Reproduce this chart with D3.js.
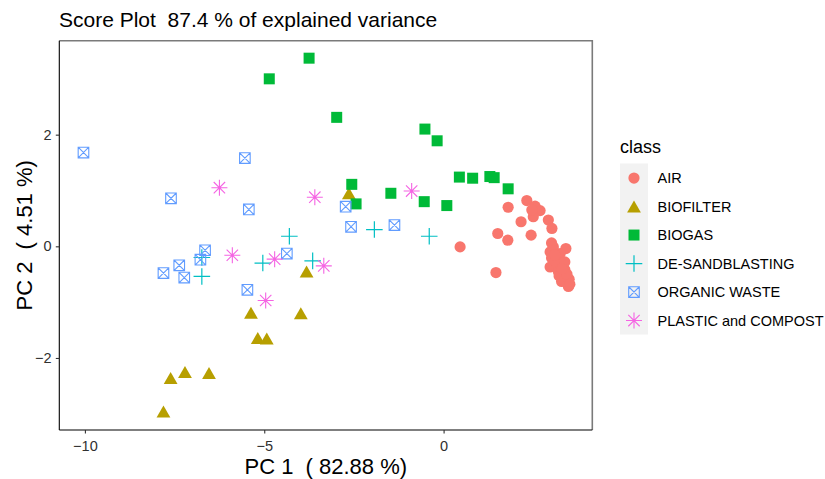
<!DOCTYPE html>
<html><head><meta charset="utf-8">
<script src="https://cdn.jsdelivr.net/npm/d3@7"></script>
<style>body{margin:0;background:#fff} text{font-family:"Liberation Sans",Arial,sans-serif;white-space:pre}</style>
</head><body><svg id="c" width="825" height="479"></svg>
<script>
const classes = ["AIR","BIOFILTER","BIOGAS","DE-SANDBLASTING","ORGANIC WASTE","PLASTIC and COMPOST"];
const colors = ["#F8766D","#B79F00","#00BA38","#00BFC4","#619CFF","#F564E3"];

const air = [[0.46,-0.01],[1.46,-0.47],[1.51,0.23],[1.79,0.11],[1.80,0.70],[2.16,0.44],[2.44,0.20],
  [2.32,0.82],[2.55,0.72],[2.69,0.64],[2.50,0.53],[2.46,0.65],[2.92,0.47],[3.02,0.32],[3.01,0.06],
  [3.41,-0.04],[2.97,-0.10],[3.06,-0.01],[3.01,-0.21],[3.15,-0.19],[3.25,-0.13],[2.97,-0.37],
  [3.15,-0.37],[3.29,-0.30],[3.38,-0.42],[3.20,-0.45],[3.34,-0.54],[3.29,-0.63],[3.45,-0.66],
  [3.48,-0.72],[3.11,-0.26],[3.05,-0.07],[3.22,-0.53],[3.36,-0.62],[3.50,-0.59],[3.38,-0.28],
  [3.44,-0.50],[3.52,-0.68],[3.10,-0.15],[3.30,-0.40]];
const biofilter = [[-2.64,0.95],[-3.82,-0.45],[-5.37,-1.19],[-3.98,-1.20],[-5.18,-1.64],[-4.93,-1.65],
  [-7.61,-2.36],[-7.21,-2.25],[-6.54,-2.27],[-7.81,-2.96]];
const biogas = [[-4.86,3.00],[-3.75,3.37],[-2.98,2.31],[-0.52,2.10],[-0.18,1.89],[-2.56,1.11],[-2.44,0.76],
  [-1.47,0.95],[-0.54,0.80],[0.09,0.73],[0.44,1.24],[0.81,1.22],[1.29,1.25],[1.41,1.23],[1.80,1.03]];
const desandblasting = [[-4.30,0.18],[-6.74,-0.20],[-5.04,-0.30],[-3.65,-0.26],[-6.74,-0.54],[-1.93,0.30],[-0.40,0.18]];
const organicWaste = [[-10.04,1.68],[-5.54,1.58],[-7.60,0.86],[-5.43,0.66],[-6.65,-0.07],[-6.78,-0.24],
  [-7.37,-0.34],[-7.81,-0.48],[-7.23,-0.56],[-4.37,-0.13],[-5.47,-0.78],[-2.73,0.71],[-2.58,0.35],[-1.37,0.38]];
const plasticCompost = [[-6.25,1.05],[-3.59,0.88],[-5.89,-0.16],[-4.71,-0.23],[-3.34,-0.35],[-4.96,-0.97],[-0.89,0.99]];
const series = [air, biofilter, biogas, desandblasting, organicWaste, plasticCompost];

const xTicks = [-10,-5,0];
const yTicks = [-2,0,2];
const xDomain = [-10.714,4.146];
const yDomain = [-3.29,3.683];
const titleText = "Score Plot  87.4 % of explained variance";
const xTitle = "PC 1  ( 82.88 %)";
const yTitle = "PC 2  ( 4.51 %)";
const legendTitle = "class";

const svg = d3.select("#c");
const L = 59.3, R = 592.3, T = 40.7, B = 430;
const x = d3.scaleLinear().domain(xDomain).range([L, R]);
const y = d3.scaleLinear().domain(yDomain).range([B, T]);
const fmt = d => (d < 0 ? "\u2212" + Math.abs(d) : String(d));

function drawSymbol(g, k, cx, cy) {
  const c = colors[k];
  if (k === 0) {
    g.append("circle").attr("cx", cx).attr("cy", cy).attr("r", 5.6).attr("fill", c);
  } else if (k === 1) {
    const w = 6.9, h = 6;
    g.append("path").attr("d", `M${cx},${cy-h}L${cx+w},${cy+h}L${cx-w},${cy+h}Z`).attr("fill", c);
  } else if (k === 2) {
    g.append("rect").attr("x", cx-5.5).attr("y", cy-5.5).attr("width", 11).attr("height", 11).attr("fill", c);
  } else if (k === 3) {
    const a = 8.3;
    g.append("path").attr("d", `M${cx-a},${cy}H${cx+a}M${cx},${cy-a}V${cy+a}`)
      .attr("stroke", c).attr("stroke-width", 1.2).attr("fill", "none");
  } else if (k === 4) {
    const s = 5.3;
    g.append("path").attr("d", `M${cx-s},${cy-s}H${cx+s}V${cy+s}H${cx-s}ZM${cx-s},${cy-s}L${cx+s},${cy+s}M${cx+s},${cy-s}L${cx-s},${cy+s}`)
      .attr("stroke", c).attr("stroke-width", 1.1).attr("fill", "none");
  } else {
    const a = 8, d = 5.7;
    g.append("path").attr("d", `M${cx-a},${cy}H${cx+a}M${cx},${cy-a}V${cy+a}M${cx-d},${cy-d}L${cx+d},${cy+d}M${cx+d},${cy-d}L${cx-d},${cy+d}`)
      .attr("stroke", c).attr("stroke-width", 1.1).attr("fill", "none");
  }
}

// points
const pts = svg.append("g");
series.forEach((arr, k) => arr.forEach(p => drawSymbol(pts, k, x(p[0]), y(p[1]))));

// panel border (top/right)
svg.append("path").attr("d", `M${L},${T}H${R}V${B}`).attr("stroke", "#7a7a7a").attr("stroke-width", 1.6).attr("fill", "none");

// axes
const xAxis = svg.append("g").attr("transform", `translate(0,${B})`)
  .call(d3.axisBottom(x).tickValues(xTicks).tickFormat(fmt).tickSize(3.5).tickPadding(7.2));
const yAxis = svg.append("g").attr("transform", `translate(${L},0)`)
  .call(d3.axisLeft(y).tickValues(yTicks).tickFormat(fmt).tickSize(3.5).tickPadding(4.3));
[xAxis, yAxis].forEach(a => {
  a.select(".domain").attr("stroke", "#000").attr("stroke-width", 1.1);
  a.selectAll(".tick line").attr("stroke", "#333").attr("stroke-width", 1.1);
  a.selectAll(".tick text").attr("fill", "#303030").style("font-size", "14.5px")
    .style("font-family", '"Liberation Sans",Arial,sans-serif');
});
xAxis.select(".domain").attr("d", `M${L},0H${R}`);
yAxis.select(".domain").attr("d", `M0,${B}V${T}`);

// titles
svg.append("text").attr("x", 59).attr("y", 27).style("font-size", "21px").attr("fill", "#000").text(titleText);
svg.append("text").attr("x", (L+R)/2).attr("y", 474).attr("text-anchor", "middle").style("font-size", "22px").text(xTitle);
svg.append("text").attr("transform", `translate(32,${(T+B)/2}) rotate(-90)`).attr("text-anchor", "middle").style("font-size", "22px").text(yTitle);

// legend
const lg = svg.append("g");
lg.append("text").attr("x", 620).attr("y", 152.5).style("font-size", "18px").text(legendTitle);
const kh = 28.5, ky0 = 163.5;
lg.append("rect").attr("x", 620).attr("y", ky0).attr("width", 28).attr("height", kh*classes.length).attr("fill", "#f2f2f2");
classes.forEach((cl, k) => {
  const cy = ky0 + kh*k + kh/2 + 0.3;
  drawSymbol(lg, k, 634, cy);
  lg.append("text").attr("x", 657.5).attr("y", cy + 5.2).style("font-size", "14.5px").attr("fill", "#000").text(cl);
});
</script></body></html>
